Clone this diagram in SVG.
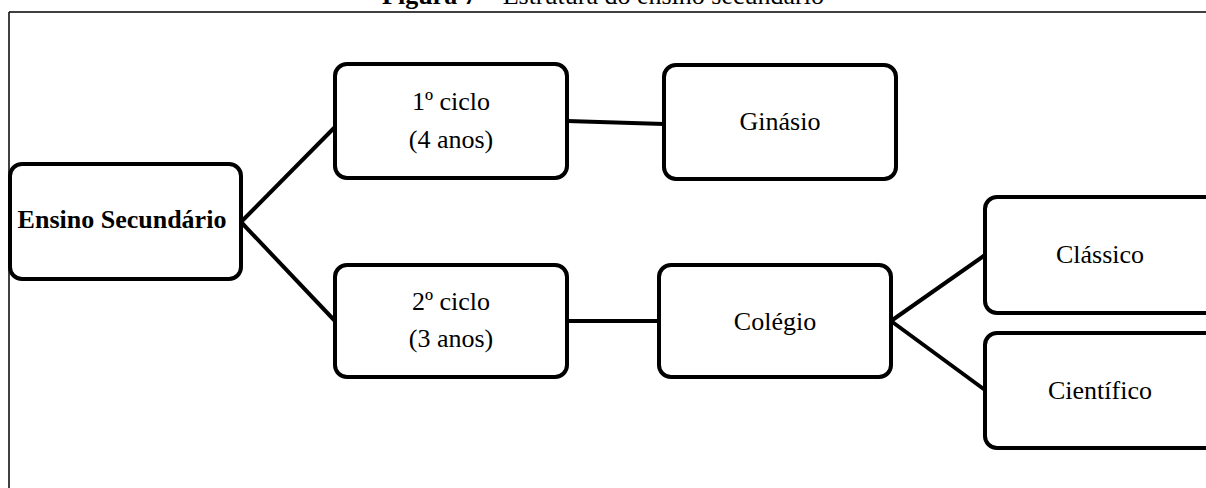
<svg xmlns="http://www.w3.org/2000/svg" width="1206" height="488" viewBox="0 0 1206 488">
  <style>
    .box { fill: #ffffff; stroke: #000000; stroke-width: 4; }
    .link { stroke: #000000; stroke-width: 4; fill: none; stroke-linecap: butt; }
    .frame { stroke: #000000; stroke-width: 1.5; fill: none; }
    text { font-family: "Liberation Serif", "Times New Roman", serif; font-size: 26px; fill: #000000; }
    .lbl { text-anchor: middle; }
    .bold { font-weight: bold; }
  </style>

  <rect x="0" y="0" width="1206" height="488" fill="#ffffff"/>

  <!-- caption, clipped at the top of the page -->
  <text id="caption" x="603" y="4" text-anchor="middle"><tspan font-weight="bold">Figura 7</tspan> – Estrutura do ensino secundário</text>

  <!-- figure frame -->
  <g id="frame">
    <line class="frame" x1="9" y1="12" x2="1206" y2="12"/>
    <line class="frame" x1="9" y1="12" x2="9" y2="488"/>
  </g>

  <!-- connectors -->
  <g id="connectors">
    <line class="link" x1="241" y1="222" x2="335" y2="127"/>
    <line class="link" x1="241" y1="222" x2="335" y2="321"/>
    <line class="link" x1="567" y1="121" x2="664" y2="124"/>
    <line class="link" x1="567" y1="321" x2="659" y2="321"/>
    <line class="link" x1="891" y1="321" x2="985" y2="255"/>
    <line class="link" x1="891" y1="321" x2="985" y2="390"/>
  </g>

  <g id="ensino-secundario">
    <rect class="box" x="10" y="164" width="231" height="115" rx="12"/>
    <text class="lbl bold" x="122" y="228" font-size="28">Ensino Secundário</text>
  </g>

  <g id="primeiro-ciclo">
    <rect class="box" x="335" y="64" width="232" height="114" rx="12"/>
    <text class="lbl" x="451" y="110">1º ciclo</text>
    <text class="lbl" x="451" y="148">(4 anos)</text>
  </g>

  <g id="ginasio">
    <rect class="box" x="664" y="65" width="232" height="114" rx="12"/>
    <text class="lbl" x="780" y="130">Ginásio</text>
  </g>

  <g id="segundo-ciclo">
    <rect class="box" x="335" y="265" width="232" height="112" rx="12"/>
    <text class="lbl" x="451" y="310">2º ciclo</text>
    <text class="lbl" x="451" y="347">(3 anos)</text>
  </g>

  <g id="colegio">
    <rect class="box" x="659" y="265" width="232" height="112" rx="12"/>
    <text class="lbl" x="775" y="330">Colégio</text>
  </g>

  <g id="classico">
    <rect class="box" x="985" y="197" width="232" height="116" rx="12"/>
    <text class="lbl" x="1100" y="263">Clássico</text>
  </g>

  <g id="cientifico">
    <rect class="box" x="985" y="333" width="232" height="115" rx="12"/>
    <text class="lbl" x="1100" y="399">Científico</text>
  </g>
</svg>
